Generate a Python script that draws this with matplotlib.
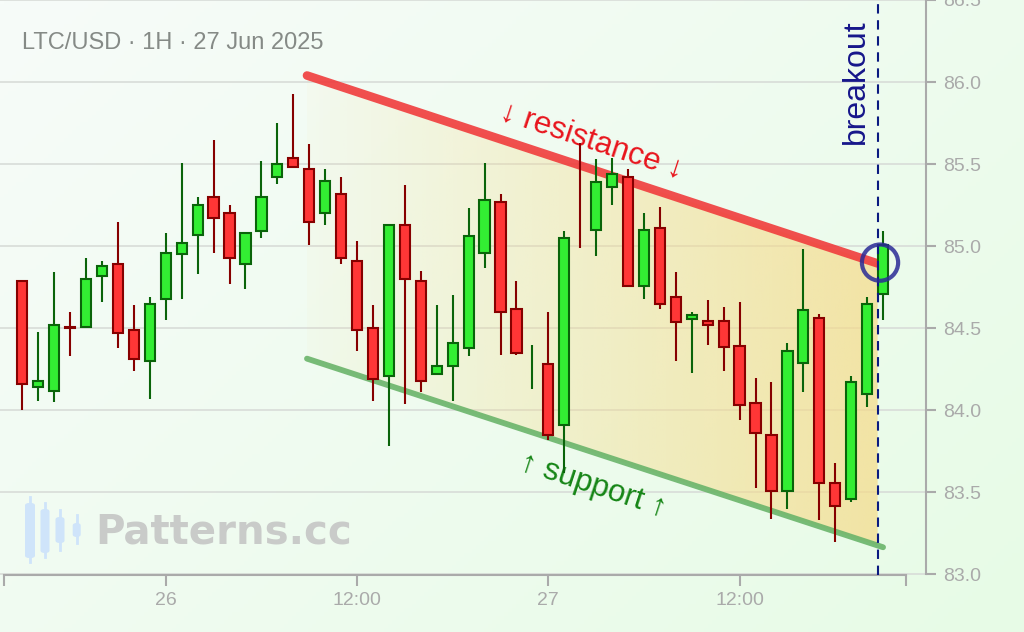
import numpy as np
import matplotlib
matplotlib.use("Agg")
import matplotlib.pyplot as plt
from matplotlib.patches import Polygon, FancyBboxPatch

# ---------------- data ----------------
title = "LTC/USD · 1H · 27 Jun 2025"
opens  = [84.79, 84.14, 84.12, 84.51, 84.51, 84.82, 84.89, 84.49, 84.30, 84.68,
          84.95, 85.07, 85.30, 85.20, 84.89, 85.09, 85.42, 85.54, 85.47, 85.20,
          85.32, 84.91, 84.50, 84.21, 85.13, 84.79, 84.22, 84.27, 84.38, 84.96,
          85.27, 84.62, 84.26, 84.28, 83.91, 85.302, 85.10, 85.36, 85.42, 84.76,
          85.11, 84.69, 84.555, 84.545, 84.545, 84.39, 84.045, 83.85, 83.51, 84.29,
          84.56, 83.56, 83.46, 84.10, 84.71]
highs  = [84.79, 84.48, 84.84, 84.60, 84.93, 84.91, 85.15, 84.64, 84.69, 85.08,
          85.51, 85.30, 85.65, 85.25, 85.08, 85.52, 85.75, 85.93, 85.62, 85.47,
          85.42, 85.03, 84.64, 85.13, 85.37, 84.85, 84.64, 84.70, 85.23, 85.51,
          85.32, 84.79, 84.40, 84.60, 85.09, 85.63, 85.53, 85.54, 85.47, 85.20,
          85.24, 84.84, 84.60, 84.675, 84.63, 84.66, 84.20, 84.175, 84.41, 84.98,
          84.59, 83.68, 84.21, 84.69, 85.09]
lows   = [84.00, 84.06, 84.05, 84.33, 84.51, 84.66, 84.38, 84.24, 84.07, 84.55,
          84.68, 84.83, 84.96, 84.77, 84.74, 85.05, 85.38, 85.48, 85.01, 85.13,
          84.89, 84.36, 84.06, 83.78, 84.04, 84.11, 84.22, 84.06, 84.33, 84.87,
          84.34, 84.34, 84.13, 83.82, 83.62, 84.99, 84.94, 85.25, 84.76, 84.68,
          84.62, 84.30, 84.23, 84.40, 84.24, 83.94, 83.53, 83.34, 83.40, 84.11,
          83.33, 83.20, 83.44, 84.02, 84.55]
closes = [84.16, 84.18, 84.52, 84.50, 84.80, 84.88, 84.47, 84.31, 84.65, 84.96,
          85.02, 85.25, 85.17, 84.93, 85.08, 85.30, 85.50, 85.48, 85.15, 85.40,
          84.93, 84.49, 84.19, 85.13, 84.80, 84.18, 84.27, 84.41, 85.06, 85.28,
          84.60, 84.35, 84.262, 83.85, 85.05, 85.30, 85.39, 85.44, 84.76, 85.10,
          84.65, 84.54, 84.58, 84.518, 84.384, 84.03, 83.86, 83.51, 84.36, 84.61,
          83.56, 83.42, 84.17, 84.65, 85.01]

xtick_pos = [9, 21, 33, 45]
xtick_labels = ["26", "12:00", "27", "12:00"]
yticks = [83.0, 83.5, 84.0, 84.5, 85.0, 85.5, 86.0, 86.5]

res_x = [17.86, 53.66]
res_y = [86.04, 84.895]
sup_x = [17.86, 54.0]
sup_y = [84.315, 83.166]
breakout_x = 53.66
breakout_y = 84.90

# ---------------- style ----------------
W, H = 1024, 632
DPI = 100
plt.rcParams['font.family'] = ['Liberation Sans', 'DejaVu Sans']

fig = plt.figure(figsize=(W / DPI, H / DPI), dpi=DPI)

# background gradient
bg = fig.add_axes([0, 0, 1, 1], zorder=-10)
gx = np.linspace(0, 1, 256)[None, :]
gy = np.linspace(0, 1, 160)[:, None]
t = np.clip(0.6 * gx + 0.4 * gy, 0, 1)
c0 = np.array([247, 252, 249]) / 255
c1 = np.array([231, 251, 230]) / 255
img = c0[None, None, :] * (1 - t[..., None]) + c1[None, None, :] * t[..., None]
bg.imshow(img, aspect='auto', extent=[0, 1, 0, 1], origin='upper')
bg.set_axis_off()

ax_left, ax_right = 0.0, 926 / W
ax_bottom = (H - 574.5) / H
ax = fig.add_axes([ax_left, ax_bottom, ax_right - ax_left, 1 - ax_bottom])
ax.set_facecolor('none')

x0_pix, dx_pix = 22.3, 15.94
XL = ((0 - x0_pix) / dx_pix, (926 - x0_pix) / dx_pix)
ax.set_xlim(*XL)
ax.set_ylim(83.0, 86.5)

n = len(opens)
xs = np.arange(n)
o = np.array(opens); c = np.array(closes); hi = np.array(highs); lo = np.array(lows)
up = c >= o
UP_FILL, UP_EDGE = '#33ee33', '#0a640a'
DN_FILL, DN_EDGE = '#ff3636', '#860000'

# channel fill with horizontal gradient
sup_at_end = np.interp(res_x[1], sup_x, sup_y)
poly = Polygon([(res_x[0], res_y[0]), (res_x[1], res_y[1]),
                (res_x[1], sup_at_end), (sup_x[0], sup_y[0])],
               closed=True, facecolor='none', edgecolor='none')
ax.add_patch(poly)
grad = np.zeros((2, 256, 4))
grad[..., 0] = 246 / 255
grad[..., 1] = 218 / 255
grad[..., 2] = 135 / 255
grad[..., 3] = np.linspace(0.05, 0.70, 256)[None, :]
im = ax.imshow(grad, aspect='auto', origin='lower',
               extent=[res_x[0], res_x[1], 83.0, 86.5], zorder=1,
               interpolation='bilinear')
im.set_clip_path(poly)
ax.set_xlim(*XL)
ax.set_ylim(83.0, 86.5)

# channel lines
ax.plot(res_x, res_y, color='#f03c3c', lw=6.2, alpha=0.9,
        solid_capstyle='round', zorder=2)
ax.plot(sup_x, sup_y, color='#6ab46a', lw=4.2, alpha=0.9,
        solid_capstyle='round', zorder=2)

# candles
for i in range(n):
    ec = UP_EDGE if up[i] else DN_EDGE
    ax.vlines(xs[i], lo[i], hi[i], color=ec, lw=1.5, zorder=4)
mask = np.abs(c - o) >= 0.005
ax.bar(xs[mask & up], (c - o)[mask & up], bottom=o[mask & up], width=0.64,
       color=UP_FILL, edgecolor=UP_EDGE, linewidth=1.5, zorder=5)
ax.bar(xs[mask & ~up], (o - c)[mask & ~up], bottom=c[mask & ~up], width=0.64,
       color=DN_FILL, edgecolor=DN_EDGE, linewidth=1.5, zorder=5)

# breakout marker
ax.axvline(breakout_x, color='#0a1a80', lw=1.5, linestyle=(0, (4.5, 3.2)), zorder=6)
ax.scatter([breakout_x + 0.15], [breakout_y], s=680, facecolors='none',
           edgecolors='#2a2a96', linewidths=3.0, alpha=0.85, zorder=7)

# labels on channel lines
p1 = ax.transData.transform((res_x[0], res_y[0]))
p2 = ax.transData.transform((res_x[1], res_y[1]))
ang = np.degrees(np.arctan2(p2[1] - p1[1], p2[0] - p1[0]))
lx = 35.7
ax.annotate("↓ resistance ↓", xy=(lx, np.interp(lx, res_x, res_y)),
            xytext=(0, 28), textcoords='offset pixels', ha='center', va='center',
            rotation=ang, rotation_mode='anchor', color='#e8141c', fontsize=22.5, zorder=3)
lx2 = 35.8
ax.annotate("↑ support ↑", xy=(lx2, np.interp(lx2, sup_x, sup_y)),
            xytext=(0, -33), textcoords='offset pixels', ha='center', va='center',
            rotation=ang, rotation_mode='anchor', color='#168516', fontsize=22.5, zorder=3)
ax.annotate("breakout", xy=(breakout_x, 1.0), xycoords=('data', 'axes fraction'),
            xytext=(-22, -82), textcoords='offset pixels', ha='center', va='center',
            rotation=90, color='#16168a', fontsize=23, zorder=3)

# axes styling
AXC = '#aaaaaa'
for s in ['top', 'left']:
    ax.spines[s].set_visible(False)
ax.spines['right'].set_color(AXC)
ax.spines['right'].set_linewidth(1.5)
ax.spines['bottom'].set_color(AXC)
ax.spines['bottom'].set_linewidth(1.5)
xb0, xb1 = (4 - x0_pix) / dx_pix, (906 - x0_pix) / dx_pix
ax.spines['bottom'].set_bounds(xb0, xb1)

ax.yaxis.tick_right()
ax.set_yticks(yticks)
ax.set_yticklabels([f"{v:.1f}" for v in yticks])
ax.tick_params(axis='y', length=7.5, width=1.5, color=AXC, pad=4.5,
               labelsize=14, labelcolor=AXC)
ax.set_xticks(xtick_pos)
ax.set_xticklabels(xtick_labels)
ax.set_xticks([xb0, xb1], minor=True)
ax.tick_params(axis='x', which='both', length=8, width=1.5, color=AXC, pad=4.5,
               labelsize=14, labelcolor=AXC)
ax.yaxis.grid(True, color='#d8dcd8', lw=1.2, zorder=0)
ax.set_axisbelow(True)

# title
fig.text(22 / W, 1 - 49.3 / H, title, fontsize=17, color='#858a86',
         ha='left', va='baseline')

# watermark
fig.text(95 / W, 1 - 543.3 / H, "Patterns.cc", fontsize=29, fontweight='bold',
         family='DejaVu Sans', color='#c9cbc9', ha='left', va='baseline', zorder=0)
icon = [(30, 497, 562, 503, 558, 10), (45, 503, 557, 509, 553, 9),
        (60, 510, 550, 517, 543, 9), (76.7, 515, 543, 523, 537, 8)]
for cx, wt, wb, bt, bb, bw in icon:
    fig.lines.append(plt.Line2D([cx / W, cx / W], [1 - wt / H, 1 - wb / H],
                                transform=fig.transFigure, color='#cfe4fa', lw=2))
    fig.patches.append(FancyBboxPatch((cx / W - bw / 2 / W, 1 - bb / H), bw / W,
                                      (bb - bt) / H, boxstyle='round,pad=0,rounding_size=0.004',
                                      transform=fig.transFigure, facecolor='#cfe4fa',
                                      edgecolor='none'))

fig.savefig('out.png', dpi=DPI)
